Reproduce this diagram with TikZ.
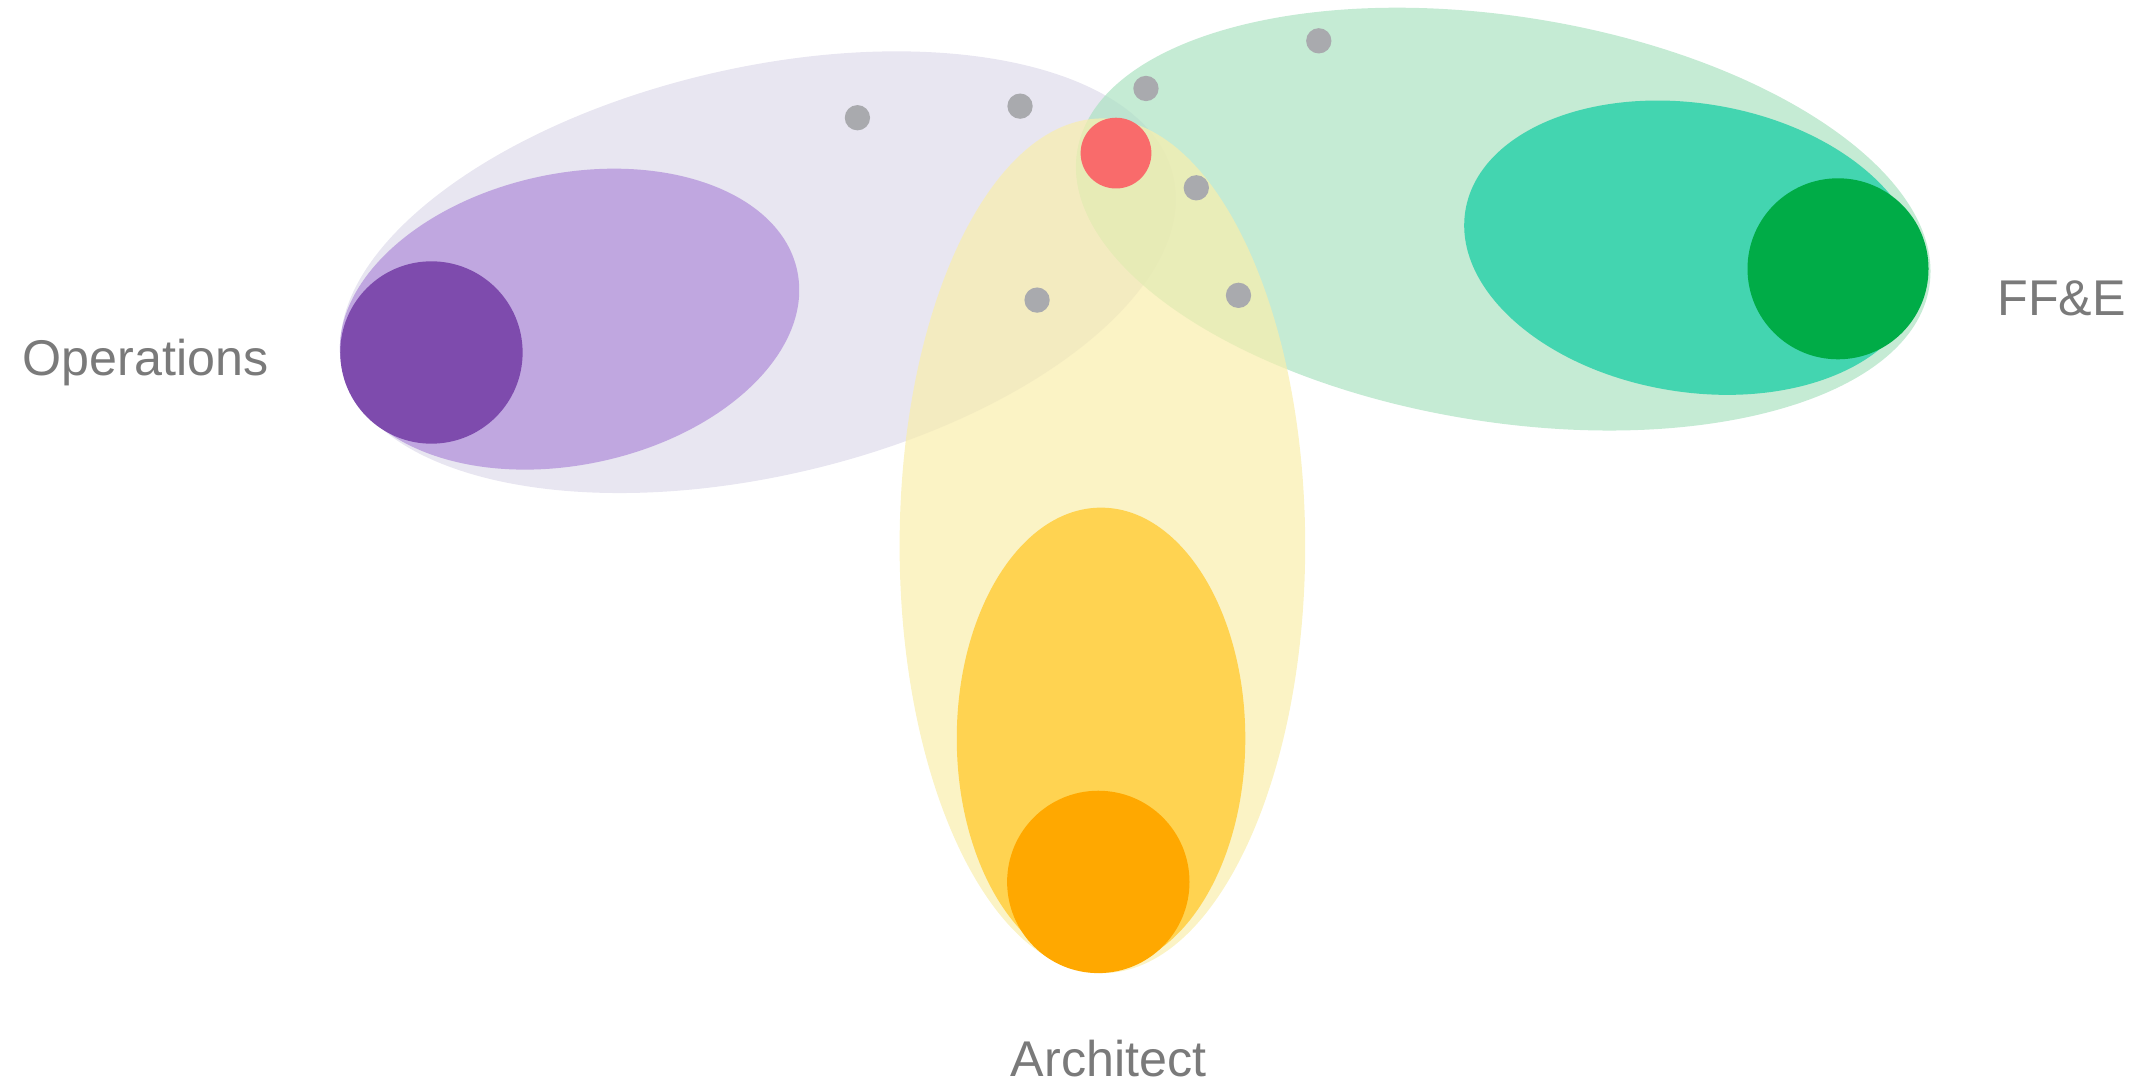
\documentclass[tikz,border=0pt]{standalone}
\usepackage{fontspec}
\newfontfamily\labelfont{Liberation Sans}
\usepackage{xcolor}
\definecolor{opshalo}{HTML}{DEDBEB}
\definecolor{opsmid}{HTML}{C0A7E0}
\definecolor{opscore}{HTML}{7E4BAD}
\definecolor{ffehalo}{HTML}{ACE2C2}
\definecolor{ffemid}{HTML}{43D5B0}
\definecolor{ffecore}{HTML}{00AC47}
\definecolor{archhalo}{HTML}{F9EEAC}
\definecolor{archmid}{HTML}{FFD351}
\definecolor{archcore}{HTML}{FFA800}
\definecolor{hubred}{HTML}{F96B6B}
\definecolor{dotgray}{HTML}{A9AAAE}
\definecolor{labelgray}{HTML}{7A7A7A}
\tikzset{
  halo/.style={opacity=0.7},
  dot/.style={circle, fill=dotgray, inner sep=0pt, minimum size=0.186cm},
  role/.style={font=\labelfont\fontsize{10.5}{12}\selectfont, text=labelgray, inner sep=0pt}
}

\begin{document}
\begin{tikzpicture}
    \useasboundingbox (0,0) rectangle (15.68,7.96);
    \fill[opshalo, halo, rotate around={13:(5.57,5.96)}] (5.57,5.96) ellipse (3.13 and 1.5);
    \fill[ffehalo, halo, rotate around={-9:(11.045,6.35)}] (11.045,6.35) ellipse (3.17 and 1.49);
    \fill[archhalo, halo] (8.10,3.95) ellipse (1.49 and 3.14);
    \fill[opsmid, rotate around={12:(4.185,5.615)}] (4.185,5.615) ellipse (1.71 and 1.07);
    \fill[opscore] (3.17,5.37) circle (0.67);
    \fill[ffemid, rotate around={-9.3:(12.435,6.14)}] (12.435,6.14) ellipse (1.69 and 1.06);
    \fill[ffecore] (13.505,5.985) circle (0.665);
    \fill[archmid] (8.09,2.535) ellipse (1.06 and 1.695);
    \fill[archcore] (8.07,1.48) circle (0.67);
    \node[circle, fill=hubred, inner sep=0pt, minimum size=0.52cm] (hub) at (8.20,6.835) {};
    \node[dot] (d1) at (6.30,7.095) {};
    \node[dot] (d2) at (7.495,7.18) {};
    \node[dot] (d3) at (8.42,7.31) {};
    \node[dot] (d4) at (9.69,7.66) {};
    \node[dot] (d5) at (8.79,6.58) {};
    \node[dot] (d6) at (7.62,5.755) {};
    \node[dot] (d7) at (9.10,5.79) {};
    \node[role, anchor=base west] (ops) at (0.16,5.20) {Operations};
    \node[role, anchor=base west] (ffe) at (14.67,5.645) {FF\&E};
    \node[role, anchor=base] (arch) at (8.145,0.05) {Architect};
\end{tikzpicture}
\end{document}
